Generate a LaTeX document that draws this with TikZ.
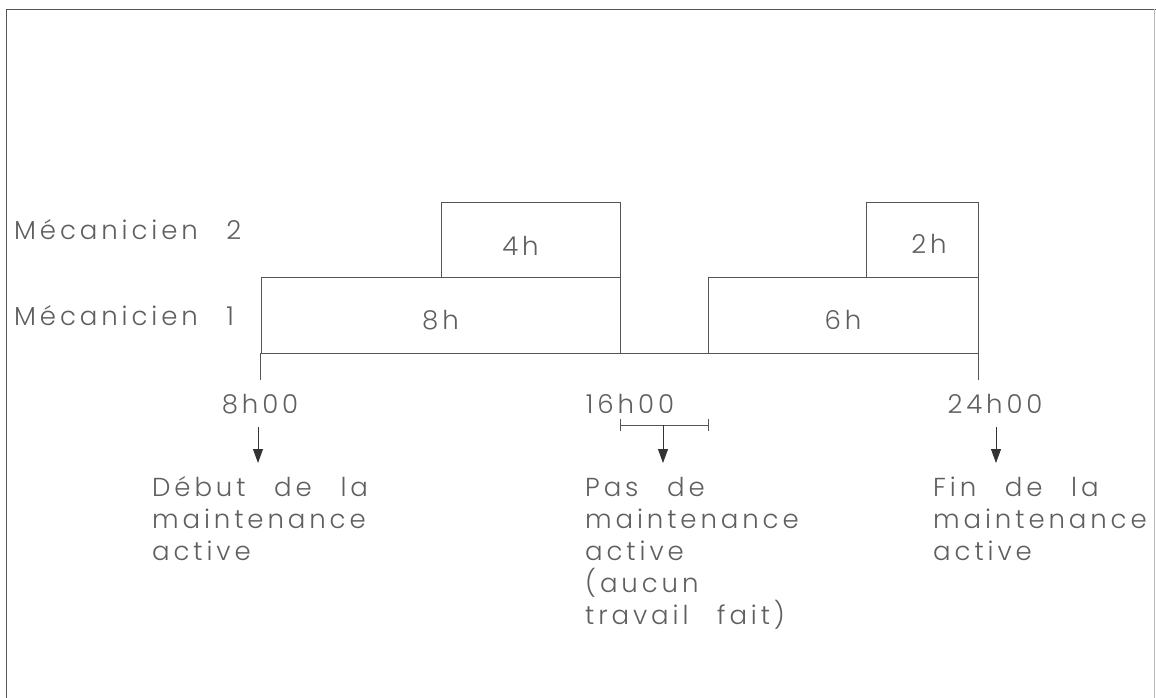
\documentclass[tikz,border=0pt]{standalone}
\usepackage{fontspec}
\setmainfont{Poppins}[UprightFont={* Light},LetterSpace=15,WordSpace=2.6]
\usetikzlibrary{arrows.meta}
\definecolor{inkline}{RGB}{85,85,85}
\definecolor{inktext}{RGB}{95,95,95}
\tikzset{
  framestroke/.style={draw=inkline,line width=0.9pt},
  slot/.style={draw=inkline,line width=0.8pt,inner sep=0pt},
  lbl/.style={inner sep=0pt,text=inktext,font=\fontsize{26}{30}\selectfont},
  note/.style={inner sep=0pt,text=inktext,align=left,anchor=north west,font=\fontsize{26}{32}\selectfont},
  pointer/.style={draw=black!80,line width=0.8pt,-{Triangle[width=10pt,length=14pt]}},
  tickline/.style={draw=inkline,line width=0.8pt}
}
\begin{document}
\begin{tikzpicture}[x=1pt,y=-1pt]
\useasboundingbox (0,0) rectangle (1156,698);
% sheet border
\draw[framestroke] (6,698) -- (6,9) -- (1156,9);
\draw[draw=inkline!40,line width=0.6pt] (1154,9) -- (1154,698);

% work slots
\node[slot,minimum width=359pt,minimum height=76pt] (m1a) at (440.5,315) {};
\node[slot,minimum width=270pt,minimum height=76pt] (m1b) at (843,315) {};
\node[slot,minimum width=179pt,minimum height=75pt] (m2a) at (530.5,239.5) {};
\node[slot,minimum width=112pt,minimum height=75pt] (m2b) at (922,239.5) {};
\node[lbl] (h8) at ([yshift=-5pt]m1a.center) {8h};
\node[lbl] (h6) at ([yshift=-5pt]m1b.center) {6h};
\node[lbl] (h4) at ([xshift=-10pt,yshift=-6pt]m2a.center) {4h};
\node[lbl] (h2) at ([xshift=7pt,yshift=-4pt]m2b.center) {2h};

% row labels
\node[lbl,anchor=base west] (r2) at (14,239) {Mécanicien 2};
\node[lbl,anchor=base west] (r1) at (14,325) {Mécanicien 1};

% time axis
\draw[tickline] (m1a.south west) -- (m1b.south east);
\draw[tickline] (m1a.south west) -- ++(0,27);
\draw[tickline] (m1b.south east) -- ++(0,27);

% time marks
\node[lbl,anchor=base] (t8) at (260,413) {8h00};
\node[lbl,anchor=base] (t16) at (630,413) {16h00};
\node[lbl,anchor=base] (t24) at (995,413) {24h00};

% idle interval
\coordinate (ga) at (620,425);
\coordinate (gb) at (708,425);
\coordinate (gm) at (663,425);
\draw[tickline] (ga) -- (gb);
\draw[tickline] (ga) ++(0,-6) -- ++(0,12);
\draw[tickline] (gb) ++(0,-6) -- ++(0,12);

% arrows and notes
\coordinate (a8) at (258,427);
\coordinate (a24) at (996,427);
\node[note] (n8) at (152,476) {Début de la\\maintenance\\active};
\node[note] (n16) at (585,477) {Pas de\\maintenance\\active\\(aucun\\travail fait)};
\node[note] (n24) at (933,477) {Fin de la\\maintenance\\active};
\draw[pointer] (a8) -- ++(0,36);
\draw[pointer] (gm) -- ++(0,38);
\draw[pointer] (a24) -- ++(0,36);
\end{tikzpicture}
\end{document}
